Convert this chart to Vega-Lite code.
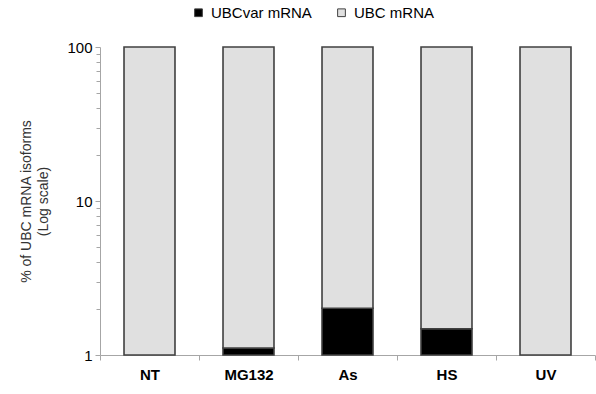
{
  "$schema": "https://vega.github.io/schema/vega-lite/v6.json",
  "autosize": {"type": "none"},
  "padding": {"left": 100, "top": 47, "right": 1, "bottom": 39},
  "width": 495,
  "height": 308,
  "background": "white",
  "config": {"view": {"stroke": null}, "font": "Liberation Sans"},
  "data": {"values": [
    {"cond": "NT", "series": "UBC mRNA", "lo": 1, "hi": 100},
    {"cond": "MG132", "series": "UBCvar mRNA", "lo": 1, "hi": 1.11},
    {"cond": "MG132", "series": "UBC mRNA", "lo": 1.11, "hi": 100},
    {"cond": "As", "series": "UBCvar mRNA", "lo": 1, "hi": 2.01},
    {"cond": "As", "series": "UBC mRNA", "lo": 2.01, "hi": 100},
    {"cond": "HS", "series": "UBCvar mRNA", "lo": 1, "hi": 1.48},
    {"cond": "HS", "series": "UBC mRNA", "lo": 1.48, "hi": 100},
    {"cond": "UV", "series": "UBC mRNA", "lo": 1, "hi": 100}
  ]},
  "layer": [
    {
      "mark": {"type": "bar", "width": {"band": 0.515}, "stroke": "#404040", "strokeWidth": 1.6},
      "encoding": {
        "x": {
          "field": "cond", "type": "nominal", "sort": ["NT", "MG132", "As", "HS", "UV"],
          "scale": {"paddingInner": 0, "paddingOuter": 0},
          "axis": {
            "title": null, "labelAngle": 0, "tickBand": "extent", "domainColor": "#a6a6a6", "tickColor": "#a6a6a6",
            "tickSize": 5, "labelFontSize": 15, "labelFontWeight": "bold", "labelColor": "black", "labelPadding": 7
          }
        },
        "y": {
          "field": "lo", "type": "quantitative",
          "scale": {"type": "log", "domain": [1, 100], "nice": false},
          "axis": {
            "values": [1, 10, 100], "format": "d", "grid": false, "domainColor": "#a6a6a6", "tickColor": "#a6a6a6",
            "tickSize": 5, "labelFontSize": 15, "labelColor": "black", "labelPadding": 3,
            "title": ["% of UBC mRNA isoforms", "(Log scale)"], "titleFontSize": 14, "titleFontWeight": "normal",
            "titleColor": "#333333", "titlePadding": 16, "titleLineHeight": 17
          }
        },
        "y2": {"field": "hi"},
        "color": {
          "field": "series", "type": "nominal",
          "scale": {"domain": ["UBCvar mRNA", "UBC mRNA"], "range": ["#000000", "#e0e0e0"]},
          "legend": {
            "orient": "none", "legendX": 91, "legendY": -42, "direction": "horizontal", "title": null,
            "symbolType": "square", "symbolSize": 60, "symbolStrokeColor": "#404040", "symbolStrokeWidth": 1,
            "labelFontSize": 15, "labelColor": "black", "labelOffset": 5, "columnPadding": 22
          }
        }
      }
    },
    {
      "mark": {"type": "rule", "opacity": 0},
      "encoding": {
        "y": {
          "field": "lo", "type": "quantitative",
          "axis": {
            "values": [2, 3, 4, 5, 6, 7, 8, 9, 20, 30, 40, 50, 60, 70, 80, 90],
            "labels": false, "domain": false, "grid": false, "title": null, "orient": "left",
            "tickColor": "#a6a6a6", "tickSize": 4
          }
        }
      }
    }
  ],
  "resolve": {"axis": {"y": "independent"}}
}
